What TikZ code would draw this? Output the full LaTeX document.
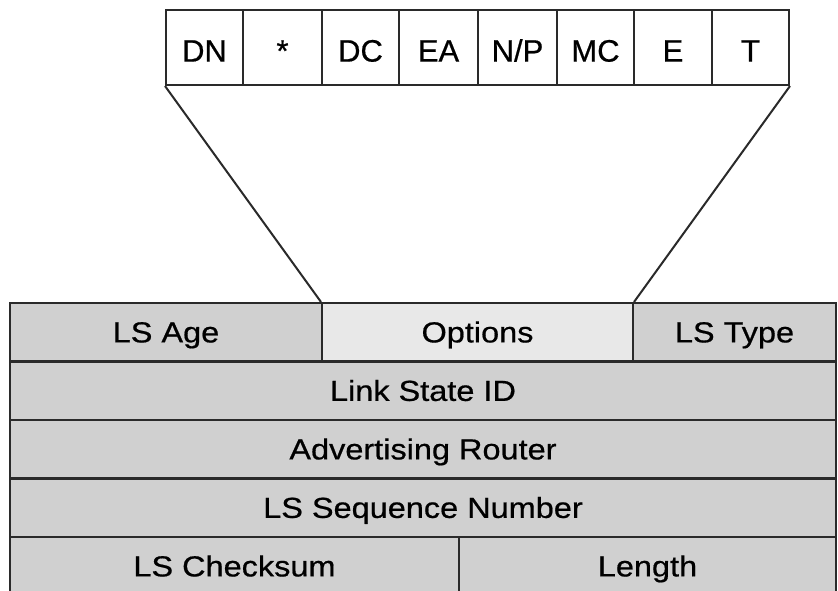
\documentclass[tikz,border=0pt]{standalone}
\usepackage{fontspec}
\setmainfont{Liberation Sans}[FakeBold=0.6]
\newfontfamily\cellfont[FakeStretch=1.12,FakeBold=0.6]{Liberation Sans}
\definecolor{linec}{HTML}{2A2A2A}
\definecolor{cellgray}{HTML}{D0D0D0}
\definecolor{optgray}{HTML}{E8E8E8}
\tikzset{
  cell/.style={draw=linec, line width=2pt, fill=cellgray, inner sep=0pt,
    minimum height=58pt, font=\cellfont\fontsize{29}{30}\selectfont, text=black,
    text height=20.8pt, text depth=-6pt},
  bit/.style={draw=linec, line width=2pt, fill=white, inner sep=0pt,
    minimum height=75pt, font=\fontsize{31}{32}\selectfont, text=black,
    text height=28.2pt, text depth=0pt},
  zoomline/.style={draw=linec, line width=2pt}
}
\begin{document}
\begin{tikzpicture}[x=1pt,y=-1pt]
\useasboundingbox (0,0) rectangle (838,591);
\clip (0,0) rectangle (838,591);
% top option bits
\node[bit, minimum width=77pt] (dn) at (204.5,47.5) {DN};
\node[bit, minimum width=79pt] (star) at (282.5,47.5) {*};
\node[bit, minimum width=77pt] (dc) at (360.5,47.5) {DC};
\node[bit, minimum width=79pt] (ea) at (438.5,47.5) {EA};
\node[bit, minimum width=79pt] (np) at (517.5,47.5) {N/P};
\node[bit, minimum width=77pt] (mc) at (595.5,47.5) {MC};
\node[bit, minimum width=78pt] (e) at (673,47.5) {E};
\node[bit, minimum width=77pt] (t) at (750.5,47.5) {T};
% header rows
\node[cell, minimum width=312pt] (age) at (166,332) {LS Age};
\node[cell, minimum width=311pt, fill=optgray] (opt) at (477.5,332) {Options};
\node[cell, minimum width=203pt] (type) at (734.5,332) {LS Type};
\node[cell, minimum width=826pt] (lsid) at (423,390.5) {Link State ID};
\node[cell, minimum width=826pt] (adv) at (423,449) {Advertising Router};
\node[cell, minimum width=826pt] (seq) at (423,507.5) {LS Sequence Number};
\node[cell, minimum width=449pt] (cks) at (234.5,566) {LS Checksum};
\node[cell, minimum width=377pt] (len) at (647.5,566) {Length};
% zoom lines
\draw[zoomline] (dn.south west) -- (opt.north west);
\draw[zoomline] (t.south east) -- (opt.north east);
\end{tikzpicture}
\end{document}
